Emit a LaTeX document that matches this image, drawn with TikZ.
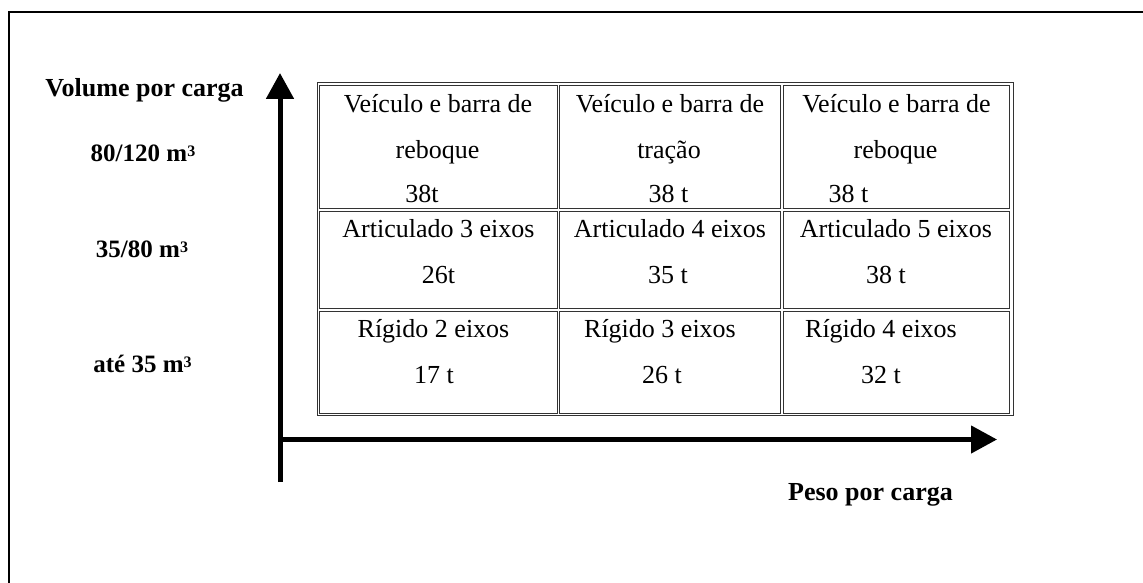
\documentclass[tikz,border=0pt]{standalone}
\usepackage{fontspec}
\setmainfont{Liberation Serif}
\usepackage{tikz}
\usetikzlibrary{arrows.meta,positioning}

\newcommand{\cubed}{\raisebox{5pt}{\fontsize{16}{16}\selectfont 3}}

\tikzset{
	celltext/.style={anchor=base, inner sep=0pt, font=\fontsize{26}{30}\selectfont},
	axislabel/.style={anchor=base, inner sep=0pt, font=\fontsize{26}{30}\selectfont\bfseries},
	cellline/.style={draw=black!80, line width=1pt},
	axis/.style={-{Triangle[length=26pt,width=27pt]}, line width=5pt}
}

\begin{document}
\begin{tikzpicture}[x=1pt,y=-1pt]
	\useasboundingbox (0,0) rectangle (1143,583);
	% frame
	\draw[line width=2pt] (1150,12) -- (8.5,12) -- (8.5,590);

	% table
	\draw[cellline] (317,83) rectangle (1013,415);
	\foreach \xa/\xb in {319/557, 559.5/780.5, 783/1009}
		\foreach \ya/\yb in {86/208.5, 211.5/308.5, 311/413}
			\draw[cellline] (\xa,\ya) rectangle (\xb,\yb);

	\node[celltext] (11a) at (438,113) {Veículo e barra de};
	\node[celltext] (11b) at (437.5,158) {reboque};
	\node[celltext] (11c) at (422,202.5) {38t};
	\node[celltext] (12a) at (670,113) {Veículo e barra de};
	\node[celltext] (12b) at (669,158) {tração};
	\node[celltext] (12c) at (668.5,202.5) {38 t};
	\node[celltext] (13a) at (896.5,113) {Veículo e barra de};
	\node[celltext] (13b) at (895.5,158) {reboque};
	\node[celltext] (13c) at (848.5,202.5) {38 t};

	\node[celltext] (21a) at (438.5,237) {Articulado 3 eixos};
	\node[celltext] (21b) at (438.5,283) {26t};
	\node[celltext] (22a) at (670,237) {Articulado 4 eixos};
	\node[celltext] (22b) at (668,283) {35 t};
	\node[celltext] (23a) at (896,237) {Articulado 5 eixos};
	\node[celltext] (23b) at (886,283) {38 t};

	\node[celltext] (31a) at (433.5,337) {Rígido 2 eixos};
	\node[celltext] (31b) at (434,383) {17 t};
	\node[celltext] (32a) at (660,337) {Rígido 3 eixos};
	\node[celltext] (32b) at (662,383) {26 t};
	\node[celltext] (33a) at (881,337) {Rígido 4 eixos};
	\node[celltext] (33b) at (881,383) {32 t};

	% axes
	\coordinate (ybot) at (280,482);
	\coordinate (ytop) at (280,73);
	\coordinate (xleft) at (278,439.5);
	\coordinate (xright) at (997,439.5);
	\draw[axis] (ybot) -- (ytop);
	\draw[axis, line width=4.5pt] (xleft) -- (xright);

	% labels
	\node[axislabel] (vol) at (144.5,97) {Volume por carga};
	\node[axislabel, font=\fontsize{25}{30}\selectfont\bfseries] (v3) at (143,161) {80/120 m\cubed};
	\node[axislabel, font=\fontsize{25}{30}\selectfont\bfseries] (v2) at (142,257) {35/80 m\cubed};
	\node[axislabel, font=\fontsize{25}{30}\selectfont\bfseries] (v1) at (142.5,372) {até 35 m\cubed};
	\node[axislabel] (peso) at (870.5,500) {Peso por carga};
\end{tikzpicture}
\end{document}
